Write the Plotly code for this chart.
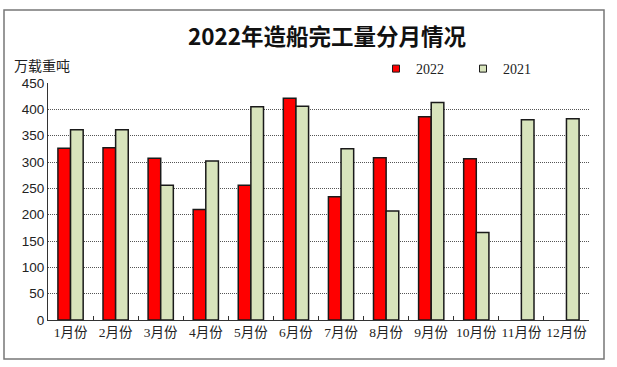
import plotly.graph_objects as go

months = ["1月份", "2月份", "3月份", "4月份", "5月份", "6月份",
          "7月份", "8月份", "9月份", "10月份", "11月份", "12月份"]
v2022 = [326, 327, 307, 210, 256, 421, 234, 308, 386, 306, None, None]
v2021 = [361, 361, 256, 302, 405, 406, 325, 207, 413, 166, 380, 382]
yticks = [0, 50, 100, 150, 200, 250, 300, 350, 400, 450]

RED = "#FF0000"
GREEN = "#D8E4BC"
EDGE = "#1a1a1a"

W, H = 617, 367
L, R, T, B = 48, 589, 83, 320  # plot area in pixels
pw, ph = R - L, B - T

def px_x(x):
    return (x - L) / pw

def px_y(y):
    return (B - y) / ph

fig = go.Figure()
fig.add_trace(go.Bar(name="2022", x=months, y=v2022, marker=dict(color=RED, line=dict(color=EDGE, width=1.5)), showlegend=False))
fig.add_trace(go.Bar(name="2021", x=months, y=v2021, marker=dict(color=GREEN, line=dict(color=EDGE, width=1.5)), showlegend=False))
# legend entries
fig.add_trace(go.Scatter(name="2022", x=[None], y=[None], mode="markers",
                         marker=dict(symbol="square", size=7, color=RED, line=dict(color=EDGE, width=1))))
fig.add_trace(go.Scatter(name="2021", x=[None], y=[None], mode="markers",
                         marker=dict(symbol="square", size=7, color=GREEN, line=dict(color=EDGE, width=1))))

fig.update_layout(
    width=W, height=H,
    margin=dict(l=L, r=W - R, t=T, b=H - B, autoexpand=False),
    paper_bgcolor="white", plot_bgcolor="white",
    barmode="group", bargap=0.44, bargroupgap=0,
    title=dict(text="<b>2022年造船完工量分月情况</b>", x=327 / W, xref="container",
               y=1 - 37 / H, yref="container", xanchor="center", yanchor="middle",
               font=dict(family="Noto Sans CJK SC", size=22.5, color="#111")),
    showlegend=True,
    legend=dict(orientation="h", x=px_x(376), y=px_y(69), xanchor="left", yanchor="middle",
                font=dict(family="Liberation Serif, Noto Sans CJK SC", size=14, color="#222"),
                itemsizing="trace", bgcolor="rgba(0,0,0,0)", entrywidth=42, entrywidthmode="pixels"),
    xaxis=dict(showline=True, linecolor="#333", linewidth=1, ticks="inside", ticklen=4,
               tickcolor="#333", tickson="boundaries", showgrid=False, tickangle=0,
               tickfont=dict(family="Liberation Serif, Noto Sans CJK SC", size=13.5, color="#222")),
    yaxis=dict(range=[0, 450], tickvals=yticks, showline=True, linecolor="#333", linewidth=1,
               showgrid=True, gridcolor="#555", griddash="1px,1px", gridwidth=1, zeroline=False,
               ticks="", tickfont=dict(family="Liberation Sans, Arial", size=13.5, color="#222")),
    annotations=[dict(text="万载重吨", x=px_x(12), y=px_y(65), xref="paper", yref="paper",
                      xanchor="left", yanchor="middle", showarrow=False,
                      font=dict(family="Noto Sans CJK SC", size=14, color="#222"))],
    shapes=[dict(type="rect", xref="paper", yref="paper",
                 x0=px_x(4), x1=px_x(604), y0=px_y(359), y1=px_y(10),
                 line=dict(color="#777", width=1.5), fillcolor="rgba(0,0,0,0)", layer="below")],
)

fig.write_html("out.html", config={"displayModeBar": False},
               post_script="document.body.style.margin='0';")
